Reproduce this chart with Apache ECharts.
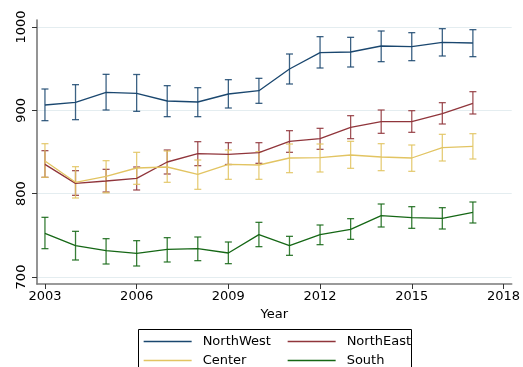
<!DOCTYPE html>
<html>
<head>
<meta charset="utf-8">
<script src="https://cdn.jsdelivr.net/npm/echarts@6/dist/echarts.min.js"></script>
<style>
  html, body { margin: 0; padding: 0; background: #fff; }
  #chart { width: 523px; height: 367px; }
</style>
</head>
<body>
<div id="chart"></div>
<script>
// Survey years
const years = [2003, 2004, 2005, 2006, 2007, 2008, 2009, 2010, 2011, 2012, 2013, 2014, 2015, 2016, 2017];

// Regional means with lower / upper confidence bounds
const northWestMean = [906.4, 909.6, 921.6, 920.4, 911.2, 910.0, 919.6, 923.6, 949.6, 969.2, 970.0, 977.2, 976.4, 981.6, 980.8];
const northWestLow  = [887.6, 888.8, 900.4, 898.8, 892.4, 892.4, 902.8, 908.4, 931.6, 950.8, 952.0, 958.4, 959.6, 965.2, 964.4];
const northWestHigh = [925.6, 930.8, 943.2, 943.0, 929.6, 927.2, 936.8, 938.4, 967.6, 988.4, 987.6, 995.2, 993.2, 998.0, 996.8];

const northEastMean = [835.2, 812.4, 815.2, 818.4, 838.0, 848.0, 847.2, 849.2, 862.8, 866.0, 879.6, 886.4, 886.4, 896.0, 908.4];
const northEastLow  = [819.6, 798.0, 802.0, 804.4, 823.6, 833.6, 835.0, 836.4, 849.6, 853.2, 866.0, 872.4, 873.6, 883.6, 895.6];
const northEastHigh = [851.6, 827.6, 829.2, 832.0, 852.4, 862.4, 861.2, 861.2, 875.6, 878.4, 893.6, 900.4, 899.6, 909.2, 922.4];

const centerMean = [839.2, 813.6, 820.8, 830.8, 832.0, 823.2, 835.2, 834.4, 842.8, 843.2, 846.4, 844.0, 842.8, 855.2, 856.8];
const centerLow  = [819.6, 794.8, 801.0, 811.2, 813.6, 805.2, 817.2, 817.2, 825.2, 826.0, 830.4, 827.6, 826.8, 839.2, 841.6];
const centerHigh = [860.0, 832.4, 839.6, 849.6, 851.2, 840.4, 852.4, 850.4, 859.6, 859.6, 862.8, 860.0, 858.4, 871.2, 872.0];

const southMean = [752.4, 737.6, 731.6, 728.4, 733.2, 734.0, 728.8, 750.8, 737.6, 750.8, 757.2, 773.6, 771.2, 770.4, 777.6];
const southLow  = [734.0, 720.4, 715.6, 713.2, 718.0, 719.6, 716.0, 736.4, 726.0, 738.8, 745.2, 760.0, 758.4, 757.6, 764.8];
const southHigh = [771.6, 754.8, 746.0, 743.6, 747.2, 748.0, 742.0, 765.6, 748.8, 762.4, 770.0, 787.6, 784.4, 783.2, 790.0];

// Axis ticks
const xTicks = [2003, 2006, 2009, 2012, 2015, 2018];
const yTicks = [700, 800, 900, 1000];

const regions = [
  { name: 'NorthWest', color: '#1a476f', mean: northWestMean, low: northWestLow, high: northWestHigh },
  { name: 'NorthEast', color: '#90353b', mean: northEastMean, low: northEastLow, high: northEastHigh },
  { name: 'Center',    color: '#e2c462', mean: centerMean,    low: centerLow,    high: centerHigh },
  { name: 'South',     color: '#156715', mean: southMean,     low: southLow,     high: southHigh }
];

const FONT = 'DejaVu Sans';
const plain = v => String(v);

function capRenderer(color) {
  return function (params, api) {
    const x = api.value(0);
    const lo = api.coord([x, api.value(1)]);
    const hi = api.coord([x, api.value(2)]);
    const hw = 3.5;
    const style = { stroke: color, lineWidth: 1.3, opacity: 0.85 };
    return {
      type: 'group',
      children: [
        { type: 'line', shape: { x1: lo[0], y1: lo[1], x2: hi[0], y2: hi[1] }, style },
        { type: 'line', shape: { x1: lo[0] - hw, y1: lo[1], x2: lo[0] + hw, y2: lo[1] }, style },
        { type: 'line', shape: { x1: hi[0] - hw, y1: hi[1], x2: hi[0] + hw, y2: hi[1] }, style }
      ]
    };
  };
}

const series = [];
regions.forEach(r => {
  series.push({
    type: 'custom',
    name: r.name + ' CI',
    renderItem: capRenderer(r.color),
    data: years.map((y, i) => [y, r.low[i], r.high[i]]),
    encode: { x: 0, y: [1, 2] },
    silent: true,
    z: 2
  });
});
regions.forEach(r => {
  series.push({
    type: 'line',
    name: r.name,
    data: years.map((y, i) => [y, r.mean[i]]),
    symbol: 'none',
    lineStyle: { color: r.color, width: 1.3 },
    itemStyle: { color: r.color },
    animation: false,
    z: 3
  });
});

// Legend keys are plain line samples (no marker), two columns
const legendCommon = {
  orient: 'vertical',
  top: 335,
  height: 80,
  itemWidth: 48,
  itemHeight: 12,
  itemGap: 6,
  padding: 0,
  itemStyle: { opacity: 0 },
  lineStyle: { width: 1.3 },
  textStyle: { fontFamily: FONT, fontSize: 13, color: '#000', padding: [0, 0, 0, 6] },
  selectedMode: false
};

const chart = echarts.init(document.getElementById('chart'), null, { renderer: 'canvas' });
chart.setOption({
  animation: false,
  backgroundColor: '#fff',
  grid: { left: 37, right: 10, top: 20, bottom: 83, containLabel: false },
  xAxis: {
    type: 'value',
    min: 2002.74,
    max: 2018.27,
    name: 'Year',
    nameLocation: 'middle',
    nameGap: 21,
    nameTextStyle: { fontFamily: FONT, fontSize: 13, color: '#000' },
    axisLine: { show: true, lineStyle: { color: '#7a7a7a', width: 1.6 } },
    axisTick: { show: true, length: 5, customValues: xTicks, lineStyle: { color: '#333', width: 1 } },
    axisLabel: { customValues: xTicks, formatter: plain, margin: 6, fontFamily: FONT, fontSize: 13, color: '#000' },
    splitLine: { show: false }
  },
  yAxis: {
    type: 'value',
    min: 691.6,
    max: 1008.4,
    axisLine: { show: true, lineStyle: { color: '#7a7a7a', width: 1.6 } },
    axisTick: { show: true, length: 5, customValues: yTicks, lineStyle: { color: '#333', width: 1 } },
    axisLabel: { customValues: yTicks, formatter: plain, rotate: 90, margin: 9, fontFamily: FONT, fontSize: 13, color: '#000' },
    splitLine: { show: true, lineStyle: { color: '#e4edf0', width: 1 } }
  },
  legend: [
    Object.assign({ left: 143, data: ['NorthWest', 'Center'] }, legendCommon),
    Object.assign({ left: 287, data: ['NorthEast', 'South'] }, legendCommon)
  ],
  graphic: [{
    type: 'rect',
    shape: { x: 138.5, y: 329.5, width: 273, height: 60 },
    style: { fill: 'none', stroke: '#000', lineWidth: 1 },
    silent: true
  }],
  series
});
</script>
</body>
</html>
